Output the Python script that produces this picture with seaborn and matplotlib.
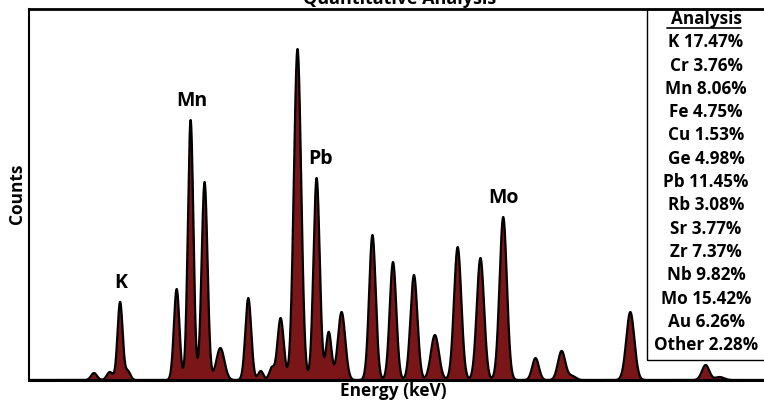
import numpy as np
import pandas as pd
import matplotlib
matplotlib.use("Agg")
import matplotlib.pyplot as plt
from matplotlib.patches import Rectangle
from matplotlib.lines import Line2D
import seaborn as sns

# ---- data ----
peak_energy = [1.77, 2.20, 2.48, 2.69, 4.02, 4.40, 4.78, 5.21, 5.97, 6.31, 6.61, 6.85,
               7.31, 7.83, 8.16, 8.51, 9.35, 9.91, 10.48, 11.05, 11.67, 12.29, 12.91,
               13.79, 14.50, 14.78, 16.37, 18.42, 18.80]
peak_counts = [70, 80, 780, 90, 910, 2600, 1980, 320, 820, 90, 120, 620,
               3310, 2020, 480, 680, 1450, 1180, 1050, 450, 1330, 1220, 1630,
               220, 290, 40, 680, 150, 30]
peak_width = [0.08, 0.08, 0.07, 0.07, 0.075, 0.075, 0.08, 0.11, 0.08, 0.07, 0.07, 0.085,
              0.10, 0.085, 0.075, 0.10, 0.09, 0.09, 0.095, 0.11, 0.10, 0.10, 0.10,
              0.09, 0.10, 0.10, 0.11, 0.10, 0.12]

label_elements = ["K", "Mn", "Pb", "Mo"]
label_energy = [2.48, 4.40, 7.83, 12.91]
label_counts = [780, 2600, 2020, 1630]

table_elements = ["K", "Cr", "Mn", "Fe", "Cu", "Ge", "Pb", "Rb", "Sr", "Zr", "Nb", "Mo", "Au", "Other"]
table_pct = [17.47, 3.76, 8.06, 4.75, 1.53, 4.98, 11.45, 3.08, 3.77, 7.37, 9.82, 15.42, 6.26, 2.28]

# ---- build spectrum from peak list ----
energy = np.linspace(0, 20.2, 4000)
counts = np.zeros_like(energy)
for c, h, w in zip(peak_energy, peak_counts, peak_width):
    counts += h * np.exp(-0.5 * ((energy - c) / w) ** 2)
df = pd.DataFrame({"Energy (keV)": energy, "Counts": counts})

sns.set_theme(style="white")
plt.rcParams['font.family'] = ['Open Sans', 'DejaVu Sans']
plt.rcParams['text.color'] = 'black'

W, H = 764, 400
fig = plt.figure(figsize=(W / 100, H / 100), dpi=100)
ax = fig.add_axes([29 / W, 20 / H, 742 / W, 371 / H])

ax.fill_between(df["Energy (keV)"], df["Counts"], color="#7a1518", lw=0)
sns.lineplot(data=df, x="Energy (keV)", y="Counts", ax=ax, color="black", lw=1.6)

ax.set_xlim(0, 20.2)
ax.set_ylim(0, 3710)
ax.set_xticks([])
ax.set_yticks([])
ax.set_xlabel("")
ax.set_ylabel("")
for s in ["left", "top", "bottom"]:
    ax.spines[s].set_color("black")
ax.spines["left"].set_linewidth(1.5)
ax.spines["top"].set_linewidth(2.0)
ax.spines["bottom"].set_linewidth(2.2)
ax.spines["right"].set_visible(False)

fig.text(393 / W, 1 - 391 / H, "Energy (keV)", ha="center", va="center",
         fontsize=12.4, fontweight="bold", color="black")
fig.text(17 / W, 1 - 194 / H, "Counts", ha="center", va="center", rotation=90,
         fontsize=12.4, fontweight="bold", color="black")
fig.text(400 / W, 1 - 4 / H, "Quantitative Analysis", ha="center", va="baseline",
         fontsize=13, fontweight="bold", color="black")

# peak labels
dx = {"Pb": 2.5}
for el, e, c in zip(label_elements, label_energy, label_counts):
    ax.annotate(el, xy=(e, c), xytext=(dx.get(el, 0.5), 14), textcoords="offset points",
                ha="center", va="center", fontsize=14, fontweight="bold", color="black")

# analysis table
fig.patches.append(Rectangle((647 / W, 1 - 360 / H), 130 / W, 351 / H,
                             transform=fig.transFigure, fill=False,
                             edgecolor="black", lw=1.0, zorder=5))
tx = 706 / W
fig.text(tx, 1 - 19 / H, "Analysis", ha="center", va="center", fontsize=12.3,
         fontweight="bold", color="black")
fig.lines.append(Line2D([667 / W, 741 / W], [1 - 28 / H, 1 - 28 / H],
                        transform=fig.transFigure, color="black", lw=1.2))
for i, (el, p) in enumerate(zip(table_elements, table_pct)):
    y = 19 + (i + 1) * 23.3
    fig.text(tx, 1 - y / H, f"{el} {p:.2f}%", ha="center", va="center",
             fontsize=12.3, fontweight="bold", color="black")

fig.savefig("out.png", dpi=100)
